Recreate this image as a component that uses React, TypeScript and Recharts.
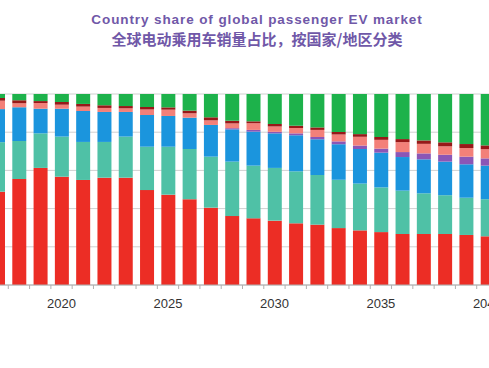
import React from 'react';
import { BarChart, Bar, XAxis, YAxis, CartesianGrid } from 'recharts';

const years = [
  2017, 2018, 2019, 2020, 2021, 2022, 2023, 2024, 2025, 2026, 2027, 2028,
  2029, 2030, 2031, 2032, 2033, 2034, 2035, 2036, 2037, 2038, 2039, 2040,
];

// shares in %, bottom to top of each stack
const china = [48.8, 55.5, 61.3, 56.7, 55, 56.2, 56.2, 49.7, 47.3, 44.9, 40.5, 36.1, 34.9, 33.7, 32.3, 31.6, 29.8, 28.6, 27.7, 26.7, 26.7, 26.7, 26.2, 25.5];
const europe = [25.9, 19.9, 18.1, 21.0, 19.9, 18.7, 21.5, 22.7, 25.1, 26.3, 26.7, 28.5, 27.6, 27.6, 27.2, 26.0, 25.3, 24.5, 23.4, 22.7, 21.3, 20.3, 19.5, 19.4];
const us = [17.3, 17.6, 12.9, 14.6, 16.2, 15.7, 12.9, 16.6, 16.1, 16.4, 16.6, 16.9, 17.8, 18.1, 18.9, 18.7, 18.6, 18.1, 18.2, 17.6, 17.8, 17.6, 17.5, 17.6];
const india = [0, 0, 0, 0, 0, 0, 0, 0, 0, 0, 0, 0.6, 0.9, 0.8, 1.0, 1.2, 1.5, 1.8, 2.1, 2.6, 3.1, 3.6, 4.0, 3.8];
const japan = [4.4, 2.1, 3.0, 2.1, 2.3, 2.1, 1.9, 2.9, 3.3, 2.3, 2.4, 2.5, 3.5, 2.8, 2.8, 3.7, 3.6, 4.6, 4.6, 5.2, 5.0, 4.4, 4.5, 4.8];
const korea = [1.4, 1.6, 1.0, 1.4, 1.4, 1.4, 1.2, 1.3, 1.2, 1.4, 1.6, 1.4, 1.0, 1.3, 1.2, 1.3, 1.3, 1.4, 1.5, 1.6, 1.8, 2.1, 2.1, 2.0];
const rest = [2.1, 3.3, 3.7, 4.2, 5.2, 5.9, 6.3, 6.8, 7.0, 8.7, 12.2, 14.0, 14.3, 15.7, 16.6, 17.5, 19.9, 21, 22.5, 23.6, 24.3, 25.3, 26.2, 26.9];

const labelYears = [2020, 2025, 2030, 2035, 2040];
const yTicks = [0, 0.2, 0.4, 0.6, 0.8, 1];

const data = years.map((year, i) => ({
  year,
  china: china[i],
  europe: europe[i],
  us: us[i],
  india: india[i],
  japan: japan[i],
  korea: korea[i],
  rest: rest[i],
}));

const series = [
  { key: 'china', color: '#ec2d25' },
  { key: 'europe', color: '#4fc1a6' },
  { key: 'us', color: '#1b95dd' },
  { key: 'india', color: '#8b56b6' },
  { key: 'japan', color: '#f38079' },
  { key: 'korea', color: '#981818' },
  { key: 'rest', color: '#1db24b' },
];

// tick marks sit between years, labels sit on the years
const xTicks = [...years.map((y) => y - 0.5), 2040.5, ...labelYears];

const YearTick = ({ x, y, payload }: any) => {
  const v = payload.value;
  if (Number.isInteger(v)) {
    return (
      <text x={x} y={y + 23} textAnchor="middle" fontSize={13} fill="#333" fontFamily="Liberation Sans, Arial, sans-serif">
        {v}
      </text>
    );
  }
  return <line x1={x} x2={x} y1={y} y2={y + 4} stroke="#b0b0b0" />;
};

export default function App() {
  return (
    <div style={{ position: 'fixed', left: 0, top: 0, width: 489, height: 368, overflow: 'hidden', background: '#fff' }}>
      <div
        style={{
          position: 'absolute',
          left: 0,
          width: 514,
          top: 11,
          textAlign: 'center',
          color: '#7058a8',
          fontFamily: 'Liberation Sans, Arial, sans-serif',
          fontWeight: 'bold',
        }}
      >
        <div style={{ fontSize: 13.5, lineHeight: '18px', letterSpacing: 0.9 }}>Country share of global passenger EV market</div>
        <div style={{ fontSize: 15, lineHeight: '19px', fontFamily: 'Noto Sans CJK SC, sans-serif' }}>
          全球电动乘用车销量占比，按国家/地区分类
        </div>
      </div>
      <div style={{ position: 'absolute', left: -13, top: 0 }}>
        <BarChart
          width={530}
          height={368}
          data={data}
          stackOffset="expand"
          margin={{ top: 94, right: 19, left: 0, bottom: 53 }}
        >
          <CartesianGrid vertical={false} stroke="#d0d0d0" />
          <XAxis
            dataKey="year"
            type="number"
            domain={[2016.5, 2040.5]}
            ticks={xTicks}
            interval={0}
            height={30}
            tickLine={false}
            tickSize={0}
            tickMargin={0}
            axisLine={{ stroke: '#b0b0b0' }}
            tick={<YearTick />}
            allowDataOverflow
          />
          <YAxis hide domain={[0, 1]} ticks={yTicks} />
          {series.map((s) => (
            <Bar key={s.key} dataKey={s.key} stackId="a" fill={s.color} barSize={14} isAnimationActive={false} />
          ))}
        </BarChart>
      </div>
    </div>
  );
}
